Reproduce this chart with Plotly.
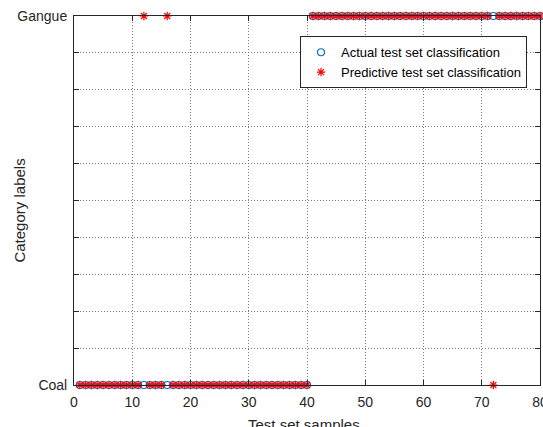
import plotly.graph_objects as go

samples = list(range(1, 81))
actual = [1] * 40 + [2] * 40
predicted = list(actual)
predicted[11] = 2   # sample 12
predicted[15] = 2   # sample 16
predicted[71] = 1   # sample 72

ytick_vals = [1 + i / 10 for i in range(11)]
ytick_text = ["Coal"] + [""] * 9 + ["Gangue"]
xtick_vals = [0, 10, 20, 30, 40, 50, 60, 70, 80]
x_title = "Test set samples"
y_title = "Category labels"

font_family = "Liberation Sans, Arial, sans-serif"

fig = go.Figure()
fig.add_trace(go.Scatter(
    x=samples, y=actual, mode="markers", name="Actual test set classification",
    marker=dict(symbol="circle-open", size=7, color="#0072BD", line=dict(width=1.2, color="#0072BD")),
    cliponaxis=False,
))
fig.add_trace(go.Scatter(
    x=samples, y=predicted, mode="markers", name="Predictive test set classification",
    marker=dict(symbol="asterisk-open", size=7, color="#FF0000", line=dict(width=1.2, color="#FF0000")),
    cliponaxis=False,
))

axis_common = dict(
    showline=True, linecolor="#262626", linewidth=1, mirror="ticks",
    ticks="inside", ticklen=5, tickcolor="#262626",
    showgrid=True, gridcolor="#7a7a7a", griddash="1px,2px", gridwidth=1,
    zeroline=False, automargin=False,
    tickfont=dict(family=font_family, size=14, color="#262626"),
)

fig.update_layout(
    width=543, height=427,
    margin=dict(l=74, r=3, t=16, b=42),
    paper_bgcolor="white", plot_bgcolor="white",
    font=dict(family=font_family, color="#262626"),
    xaxis=dict(range=[0, 80], tickvals=xtick_vals, ticklabeloverflow="allow",
               ticklabelstandoff=4, **axis_common),
    yaxis=dict(range=[1, 2], tickvals=ytick_vals, ticktext=ytick_text,
               ticklabelstandoff=3, **axis_common),
    legend=dict(x=0.485, y=0.945, xanchor="left", yanchor="top",
                bgcolor="white", bordercolor="#262626", borderwidth=1,
                font=dict(size=13, color="#000000"), tracegroupgap=0),
    showlegend=True,
    annotations=[
        dict(text=x_title, xref="paper", yref="paper", x=0.493, y=-0.106,
             xanchor="center", yanchor="middle", showarrow=False,
             font=dict(size=15, color="#262626", family=font_family)),
        dict(text=y_title, xref="paper", yref="paper", x=-0.119, y=0.4715,
             xanchor="center", yanchor="middle", textangle=-90, showarrow=False,
             font=dict(size=15, color="#262626", family=font_family)),
    ],
)

fig.write_html("out.html")
